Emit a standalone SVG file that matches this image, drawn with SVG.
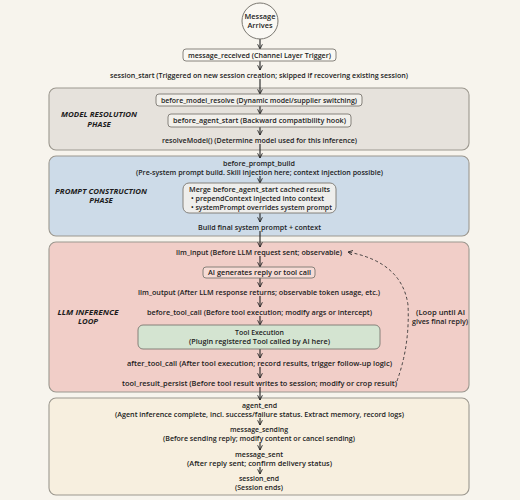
<svg xmlns="http://www.w3.org/2000/svg" width="520" height="500" viewBox="0 0 520 500">
<defs>
<marker id="ah" viewBox="0 0 10 10" refX="9" refY="5" markerWidth="5.5" markerHeight="5.5" orient="auto" markerUnits="userSpaceOnUse">
<path d="M1 1 L9 5 L1 9" fill="none" stroke="#222" stroke-width="1.6" stroke-linecap="round" stroke-linejoin="round"/>
</marker>
<style>
text{font-family:"Open Sans","Liberation Sans",Arial,sans-serif;font-weight:600;font-size:7.4px;fill:#1c1c1c;text-anchor:middle}
.lbl{font-weight:bold;font-style:italic;font-size:7.8px}
.lft{text-anchor:start}
.phase{stroke:#9c988f;stroke-width:1.1}
.box{stroke:#7a7770;stroke-width:0.9}
.arr{stroke:#222;stroke-width:1.1;fill:none;marker-end:url(#ah)}
.dash{stroke:#333;stroke-width:0.9;fill:none;stroke-dasharray:3 2.5;marker-end:url(#ah)}
</style>
</defs>
<rect width="520" height="500" fill="#f7f4ed"/>

<g id="phase-model">
<rect class="phase" x="49" y="88" width="420" height="62" rx="7" fill="#e6e2dc"/>
<text class="lbl" x="99" y="117" textLength="76" lengthAdjust="spacingAndGlyphs">MODEL RESOLUTION</text>
<text class="lbl" x="99" y="126.5">PHASE</text>
</g>
<g id="phase-prompt">
<rect class="phase" x="49" y="156" width="420" height="80" rx="7" fill="#cddbe8"/>
<text class="lbl" x="101" y="193.5" textLength="92" lengthAdjust="spacingAndGlyphs">PROMPT CONSTRUCTION</text>
<text class="lbl" x="101" y="202.5">PHASE</text>
</g>
<g id="phase-llm">
<rect class="phase" x="49" y="242" width="420" height="150" rx="7" fill="#f1cec8"/>
<text class="lbl" x="88" y="314.5" textLength="61" lengthAdjust="spacingAndGlyphs">LLM INFERENCE</text>
<text class="lbl" x="88" y="324">LOOP</text>
</g>
<g id="phase-end">
<rect class="phase" x="49" y="398" width="420" height="97" rx="7" fill="#f7efdf"/>
</g>

<g id="connectors">
<line class="arr" x1="260" y1="39" x2="260" y2="49"/>
<line class="arr" x1="260" y1="61" x2="260" y2="70"/>
<line class="arr" x1="260" y1="79" x2="260" y2="94"/>
<line class="arr" x1="260" y1="106" x2="260" y2="114"/>
<line class="arr" x1="260" y1="127" x2="260" y2="135"/>
<line class="arr" x1="260" y1="144" x2="260" y2="158"/>
<line class="arr" x1="260" y1="176" x2="260" y2="183"/>
<line class="arr" x1="260" y1="213" x2="260" y2="222"/>
<line class="arr" x1="260" y1="231" x2="260" y2="247"/>
<line class="arr" x1="260" y1="256" x2="260" y2="267"/>
<line class="arr" x1="260" y1="278" x2="260" y2="287"/>
<line class="arr" x1="260" y1="296" x2="260" y2="307"/>
<line class="arr" x1="260" y1="316" x2="260" y2="325"/>
<line class="arr" x1="260" y1="349" x2="260" y2="358"/>
<line class="arr" x1="260" y1="367" x2="260" y2="378"/>
<line class="arr" x1="260" y1="387" x2="260" y2="400"/>
<line class="arr" x1="260" y1="418" x2="260" y2="425"/>
<line class="arr" x1="260" y1="442.5" x2="260" y2="450"/>
<line class="arr" x1="260" y1="467" x2="260" y2="474"/>
<path class="dash" d="M397 381 Q410 345 408 305 Q402 262 348 252"/>
</g>

<g id="message-arrives">
<circle cx="260" cy="21" r="18" fill="#faf8f3" stroke="#7a7770" stroke-width="1"/>
<text x="260" y="19" font-weight="bold">Message</text>
<text x="260" y="28" font-weight="bold">Arrives</text>
</g>
<g id="message-received">
<rect class="box" x="183" y="49" width="153" height="12" rx="3" fill="#faf8f3"/>
<text x="259.5" y="57.8" textLength="143" lengthAdjust="spacingAndGlyphs">message_received (Channel Layer Trigger)</text>
</g>
<g id="session-start">
<text x="259" y="77.8" textLength="298" lengthAdjust="spacingAndGlyphs">session_start (Triggered on new session creation; skipped if recovering existing session)</text>
</g>
<g id="before-model-resolve">
<rect class="box" x="156" y="94" width="206" height="12" rx="3" fill="#f2f0eb"/>
<text x="259" y="102.8" textLength="196" lengthAdjust="spacingAndGlyphs">before_model_resolve (Dynamic model/supplier switching)</text>
</g>
<g id="before-agent-start">
<rect class="box" x="168" y="114" width="183" height="13" rx="3" fill="#f2f0eb"/>
<text x="259.5" y="123.3" textLength="173" lengthAdjust="spacingAndGlyphs">before_agent_start (Backward compatibility hook)</text>
</g>
<g id="resolve-model">
<text x="259.5" y="142.8" textLength="195" lengthAdjust="spacingAndGlyphs">resolveModel() (Determine model used for this inference)</text>
</g>
<g id="before-prompt-build">
<text x="259" y="165.8" textLength="72" lengthAdjust="spacingAndGlyphs">before_prompt_build</text>
<text x="259.5" y="174.8" textLength="247" lengthAdjust="spacingAndGlyphs">(Pre-system prompt build. Skill injection here; context injection possible)</text>
</g>
<g id="merge-results">
<rect class="box" x="183" y="183" width="153" height="30" rx="6" fill="#eeeeec"/>
<text class="lft" x="189" y="191.6" textLength="141" lengthAdjust="spacingAndGlyphs">Merge before_agent_start cached results</text>
<text class="lft" x="191" y="200.6" textLength="133" lengthAdjust="spacingAndGlyphs">• prependContext injected into context</text>
<text class="lft" x="191" y="209.6" textLength="141" lengthAdjust="spacingAndGlyphs">• systemPrompt overrides system prompt</text>
</g>
<g id="build-final">
<text x="259.5" y="229.8" textLength="123" lengthAdjust="spacingAndGlyphs">Build final system prompt + context</text>
</g>
<g id="llm-input">
<text x="259" y="254.8" textLength="166" lengthAdjust="spacingAndGlyphs">llm_input (Before LLM request sent; observable)</text>
</g>
<g id="ai-generates">
<rect class="box" x="203" y="267" width="112" height="11" rx="3" fill="#f6dbd5"/>
<text x="259.5" y="275.2" textLength="103" lengthAdjust="spacingAndGlyphs">AI generates reply or tool call</text>
</g>
<g id="llm-output">
<text x="259" y="294.8" textLength="242" lengthAdjust="spacingAndGlyphs">llm_output (After LLM response returns; observable token usage, etc.)</text>
</g>
<g id="before-tool-call">
<text x="259.5" y="314.8" textLength="225" lengthAdjust="spacingAndGlyphs">before_tool_call (Before tool execution; modify args or intercept)</text>
</g>
<g id="tool-execution">
<rect class="box" x="138" y="325" width="242" height="24" rx="5" fill="#d4e4d1"/>
<text x="259.5" y="334.8" textLength="49" lengthAdjust="spacingAndGlyphs">Tool Execution</text>
<text x="259.5" y="343.8" textLength="141" lengthAdjust="spacingAndGlyphs">(Plugin registered Tool called by AI here)</text>
</g>
<g id="after-tool-call">
<text x="259.5" y="365.8" textLength="265" lengthAdjust="spacingAndGlyphs">after_tool_call (After tool execution; record results, trigger follow-up logic)</text>
</g>
<g id="tool-result-persist">
<text x="259.5" y="385.8" textLength="275" lengthAdjust="spacingAndGlyphs">tool_result_persist (Before tool result writes to session; modify or crop result)</text>
</g>
<g id="loop-note">
<text x="440.5" y="314.8" textLength="49" lengthAdjust="spacingAndGlyphs">(Loop until AI</text>
<text x="440" y="323.8" textLength="56" lengthAdjust="spacingAndGlyphs">gives final reply)</text>
</g>
<g id="agent-end">
<text x="259.5" y="407.8" textLength="35" lengthAdjust="spacingAndGlyphs">agent_end</text>
<text x="259.5" y="416.8" textLength="289" lengthAdjust="spacingAndGlyphs">(Agent inference complete, incl. success/failure status. Extract memory, record logs)</text>
</g>
<g id="message-sending">
<text x="259" y="431.8" textLength="58" lengthAdjust="spacingAndGlyphs">message_sending</text>
<text x="259" y="441" textLength="192" lengthAdjust="spacingAndGlyphs">(Before sending reply; modify content or cancel sending)</text>
</g>
<g id="message-sent">
<text x="259" y="456.6" textLength="48" lengthAdjust="spacingAndGlyphs">message_sent</text>
<text x="259.5" y="465.8" textLength="145" lengthAdjust="spacingAndGlyphs">(After reply sent; confirm delivery status)</text>
</g>
<g id="session-end">
<text x="259" y="480.6" textLength="40" lengthAdjust="spacingAndGlyphs">session_end</text>
<text x="259" y="489.8" textLength="48" lengthAdjust="spacingAndGlyphs">(Session ends)</text>
</g>
</svg>
